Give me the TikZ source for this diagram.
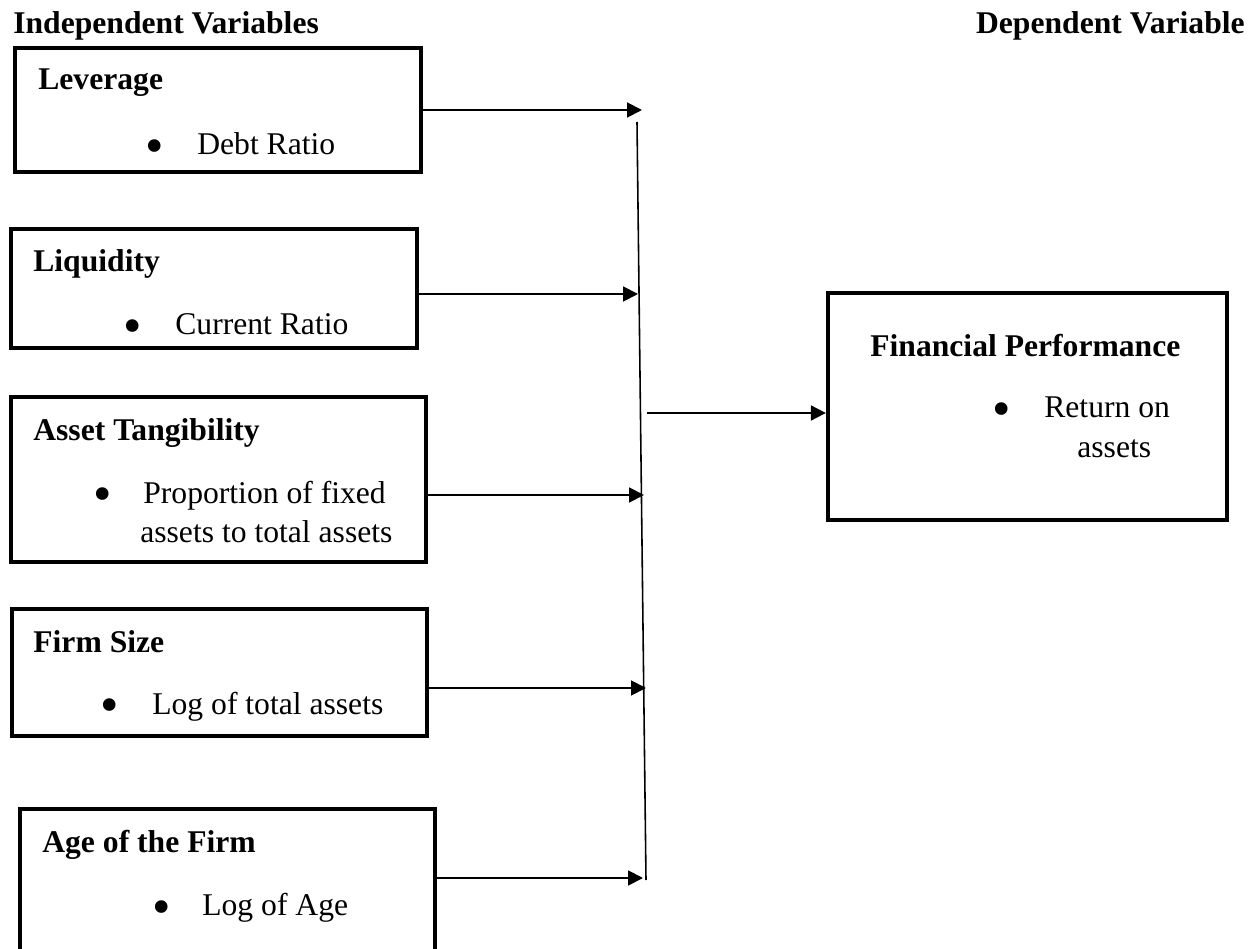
\documentclass[tikz,border=0pt]{standalone}
\usepackage{fontspec}
\setmainfont{Liberation Serif}
\usetikzlibrary{arrows.meta}

\begin{document}
\begin{tikzpicture}[x=0.02cm, y=-0.02cm,
  box/.style={draw, line width=2.5pt, inner sep=0pt},
  head/.style={anchor=base west, inner sep=0pt, font=\fontsize{18}{21}\selectfont\bfseries},
  item/.style={anchor=base west, inner sep=0pt, font=\fontsize{18}{21}\selectfont},
  dot/.style={anchor=base, inner sep=0pt, yshift=-0.18cm, font=\fontsize{30}{32}\selectfont},
  arr/.style={line width=1.1pt, -{Triangle[length=8.5pt, width=8.5pt]}}]
\useasboundingbox (0,0) rectangle (1258,949);

\node (indep) [head] at (13,34) {Independent Variables};
\node (dep) [head, anchor=base east] at (1245,34) {Dependent Variable};

\node (lev) [box, minimum width=8.12cm, minimum height=2.48cm] at (218,110) {};
\node (liq) [box, minimum width=8.12cm, minimum height=2.38cm] at (214,288.5) {};
\node (tan) [box, minimum width=8.3cm, minimum height=3.3cm] at (218.5,479.5) {};
\node (size) [box, minimum width=8.3cm, minimum height=2.54cm] at (219.5,672.5) {};
\node (age) [box, minimum width=8.3cm, minimum height=3.02cm] at (227.5,884.5) {};
\node (fp) [box, minimum width=7.98cm, minimum height=4.54cm] at (1027.5,406.5) {};

\node (levt) [head] at (38,90) {Leverage};
\node (levd) [dot] at (155,155) {\textbullet};
\node (levi) [item] at (197,155) {Debt Ratio};

\node (liqt) [head] at (33,272) {Liquidity};
\node (liqd) [dot] at (133,335) {\textbullet};
\node (liqi) [item] at (175,335) {Current Ratio};

\node (tant) [head] at (33,440) {Asset Tangibility};
\node (tand) [dot] at (103,503) {\textbullet};
\node (tani) [item] at (143,503) {Proportion of fixed};
\node (tanj) [item] at (140,542) {assets to total assets};

\node (sizet) [head] at (33,652) {Firm Size};
\node (sized) [dot] at (110,714) {\textbullet};
\node (sizei) [item] at (152,714) {Log of total assets};

\node (aget) [head] at (42,852) {Age of the Firm};
\node (aged) [dot] at (162,915) {\textbullet};
\node (agei) [item] at (202,915) {Log of Age};

\node (fpt) [head] at (870,357) {Financial Performance};
\node (fpd) [dot] at (1002,418) {\textbullet};
\node (fpi) [item] at (1044,418) {Return on};
\node (fpj) [item] at (1077,458) {assets};

% joining line
\coordinate (vtop) at (637,122);
\coordinate (vbot) at (646,880);
\coordinate (j1) at (642,110);
\coordinate (j2) at (638,294);
\coordinate (j3) at (644,495);
\coordinate (j4) at (646,688);
\coordinate (j5) at (643,878);
\coordinate (jout) at (647,413);

\draw [line width=0.9pt] (vtop) -- (vbot);
\draw [arr] (lev.east |- j1) -- (j1);
\draw [arr] (liq.east |- j2) -- (j2);
\draw [arr] (tan.east |- j3) -- (j3);
\draw [arr] (size.east |- j4) -- (j4);
\draw [arr] (age.east |- j5) -- (j5);
\draw [arr] (jout) -- (fp.west |- jout);
\end{tikzpicture}
\end{document}
